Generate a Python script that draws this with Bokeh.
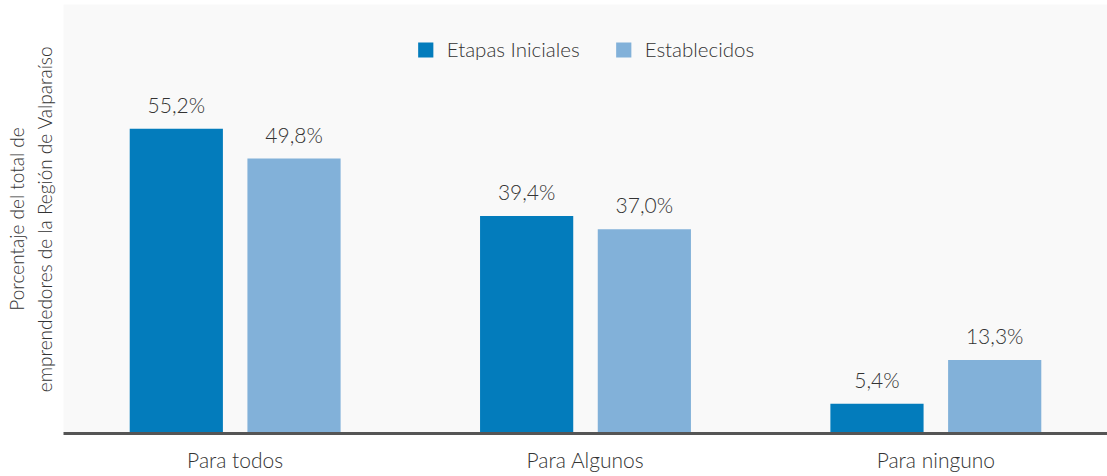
from bokeh.plotting import figure
from bokeh.models import FactorRange, Range1d, ColumnDataSource, Legend, LegendItem, FixedTicker
from bokeh.transform import dodge
from bokeh.core.properties import value
from bokeh.embed import file_html
from bokeh.resources import INLINE

categories = ["Para todos", "Para Algunos", "Para ninguno"]
series_names = ["Etapas Iniciales", "Establecidos"]
etapas_iniciales = [55.2, 39.4, 5.4]
establecidos = [49.8, 37.0, 13.3]

def fmt(v):
    return f"{v:.1f}".replace(".", ",") + "%"

src = ColumnDataSource(data=dict(
    cat=categories,
    ei=etapas_iniciales,
    es=establecidos,
    ei_lab=[fmt(v) for v in etapas_iniciales],
    es_lab=[fmt(v) for v in establecidos],
))

FONT = "Lato Light, Lato"
DARK = "#037cbc"
LIGHT = "#82b1d9"

p = figure(
    x_range=FactorRange(*categories, range_padding=-0.01, range_padding_units="absolute"),
    y_range=Range1d(0, 77.7),
    width=1107, height=476,
    output_backend="svg", toolbar_location=None,
    min_border_left=63, min_border_right=0, min_border_top=4, min_border_bottom=43,
    background_fill_color="#f9f9f9", border_fill_color="#ffffff",
    outline_line_color=None,
)

r1 = p.vbar(x=dodge("cat", -0.168, range=p.x_range), top="ei", width=0.266,
            source=src, fill_color=DARK, line_color=None)
r2 = p.vbar(x=dodge("cat", 0.168, range=p.x_range), top="es", width=0.266,
            source=src, fill_color=LIGHT, line_color=None)

for off, col in ((-0.168, "ei"), (0.168, "es")):
    p.text(x=dodge("cat", off, range=p.x_range), y=col, text=col + "_lab", source=src,
           text_align="center", text_baseline="bottom", y_offset=-12,
           text_font=value(FONT), text_font_size="21px", text_color="#333333")

legend = Legend(items=[LegendItem(label=series_names[0], renderers=[r1]),
                       LegendItem(label=series_names[1], renderers=[r2])],
                orientation="horizontal", location="top_center",
                background_fill_alpha=0, border_line_color=None,
                glyph_width=19, glyph_height=19, label_standoff=12, spacing=34,
                label_text_font=FONT, label_text_font_size="20.5px",
                label_text_color="#333333", margin=33, padding=0)
p.add_layout(legend)

p.xgrid.visible = False
p.ygrid.visible = False

p.xaxis.axis_line_width = 3
p.xaxis.axis_line_color = "#555555"
p.xaxis.major_tick_line_color = None
p.xaxis.minor_tick_line_color = None
p.xaxis.major_label_text_font = FONT
p.xaxis.major_label_text_font_size = "21px"
p.xaxis.major_label_text_color = "#333333"
p.xaxis.major_label_standoff = 7

p.yaxis.ticker = FixedTicker(ticks=[])
p.yaxis.axis_line_color = None
p.yaxis.major_tick_line_color = None
p.yaxis.minor_tick_line_color = None
p.yaxis.axis_label = "Porcentaje del total de\nemprendedores de la Región de Valparaíso"
p.yaxis.axis_label_text_font = FONT
p.yaxis.axis_label_text_font_style = "normal"
p.yaxis.axis_label_text_font_size = "19px"
p.yaxis.axis_label_text_color = "#333333"
p.yaxis.axis_label_standoff = 8

open("out.html", "w").write(file_html(p, INLINE))
